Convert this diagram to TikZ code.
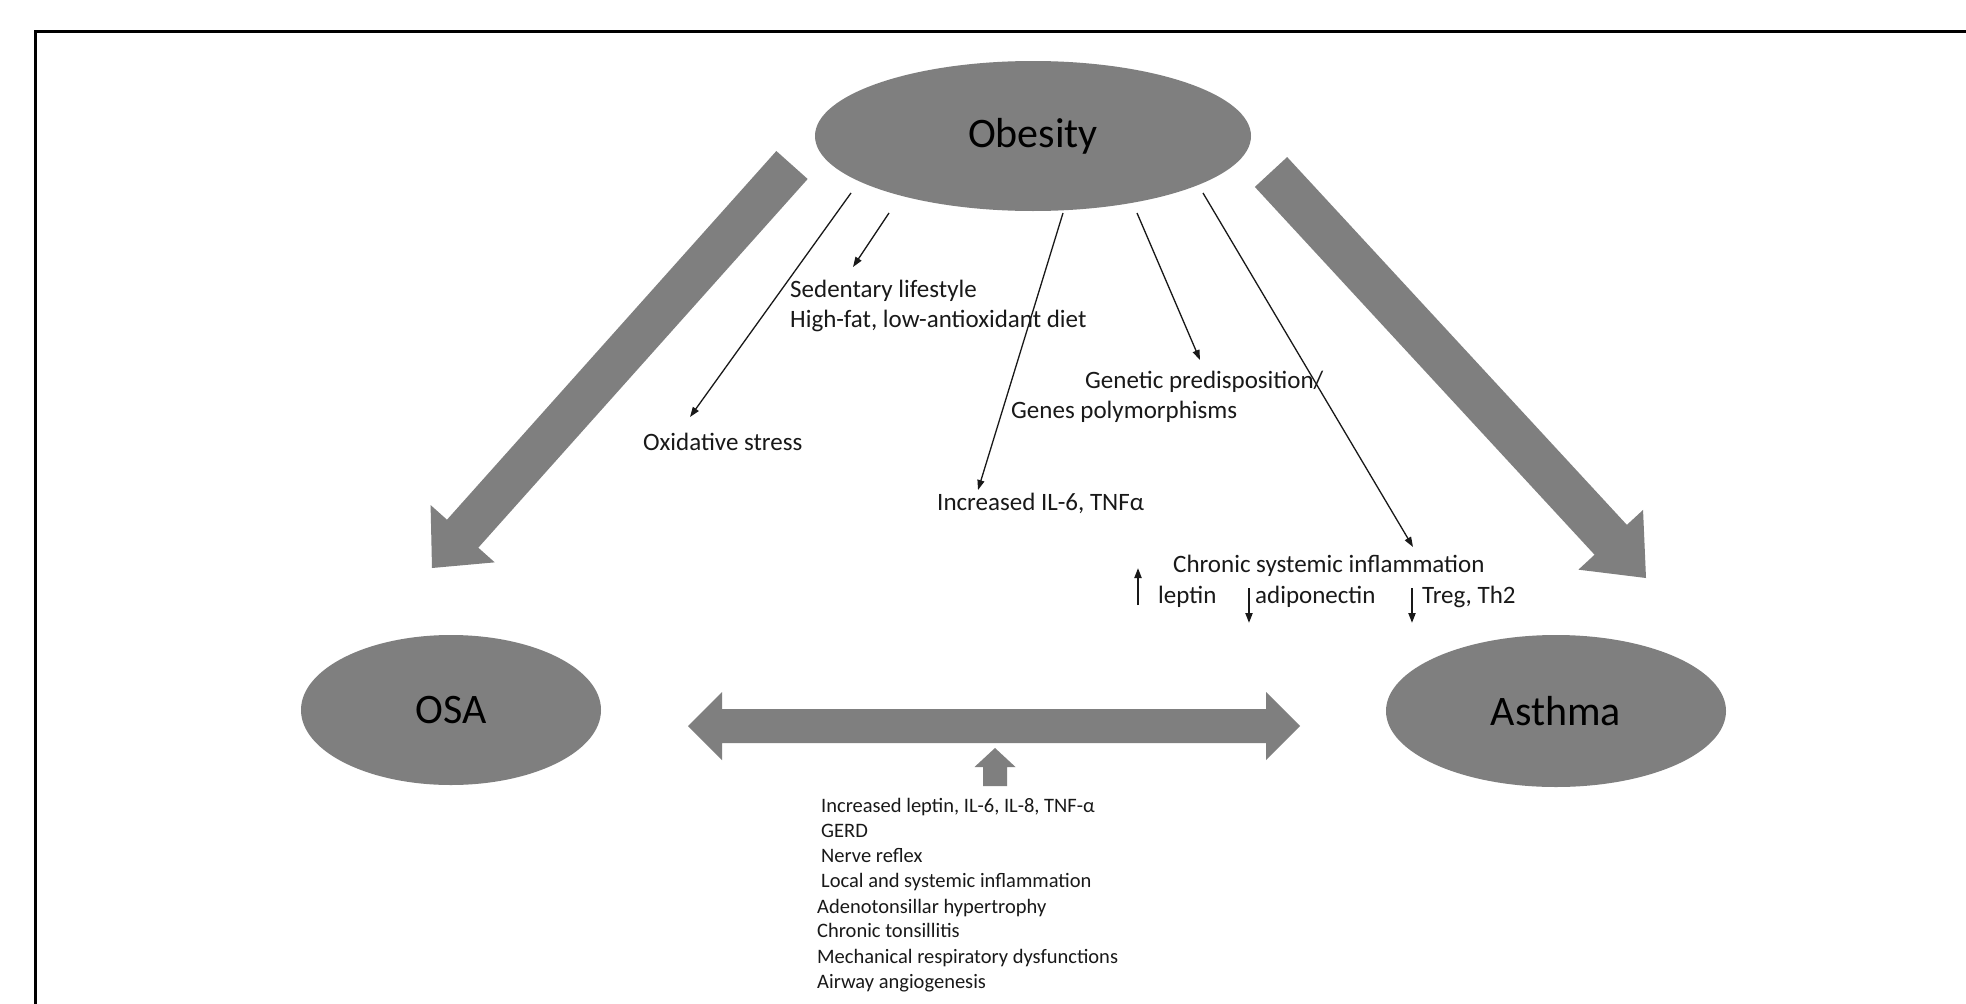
\documentclass[tikz,border=0pt]{standalone}
\usepackage{fontspec}
\setmainfont{Carlito}
\usetikzlibrary{calc,shapes.geometric,arrows.meta}
\definecolor{shapegray}{RGB}{127,127,127}
\definecolor{ink}{RGB}{25,25,25}
% block arrow: #1 name, #2 start coord, #3 tip coord, #4 shaft half width, #5 head half width, #6 head length
\newcommand\blockarrow[6]{%
  \coordinate (#1b) at ($(#3)!#6!(#2)$);
  \fill[big] ($(#2)!#4!90:(#3)$) -- ($(#1b)!#4!90:(#3)$) -- ($(#1b)!#5!90:(#3)$) -- (#3)
     -- ($(#1b)!#5!-90:(#3)$) -- ($(#1b)!#4!-90:(#3)$) -- ($(#2)!#4!-90:(#3)$) -- cycle;
}
\begin{document}
\begin{tikzpicture}[x=1pt,y=-1pt,
  ell/.style={ellipse, fill=shapegray, inner sep=0pt, text=black, font=\fontsize{42}{46}\selectfont},
  lbl/.style={anchor=base west, inner sep=0pt, text=ink, font=\fontsize{25}{29}\selectfont},
  sml/.style={anchor=base west, inner sep=0pt, text=ink, font=\fontsize{20.5}{24}\selectfont},
  thinarrow/.style={draw=ink, line width=1.3pt, -{Triangle[length=10pt,width=7pt]}},
  big/.style={fill=shapegray}]
\useasboundingbox (0,0) rectangle (1966,1004);
\fill[white] (0,0) rectangle (1966,1004);
% frame
\draw[line width=3pt, black] (35,1010) -- (35,31) -- (1975,31);

% main nodes
\node[ell, minimum width=436pt, minimum height=150pt] (obesity) at (1033,136) {Obesity};
\node[ell, minimum width=300pt, minimum height=150pt] (osa) at (451,710) {OSA};
\node[ell, minimum width=340pt, minimum height=152pt] (asthma) at (1556,711) {Asthma};

% big arrows
\coordinate (Ls) at (792,165); \coordinate (Lt) at (432,568);
\blockarrow{L}{Ls}{Lt}{21pt}{43pt}{46pt}
\coordinate (Rs) at (1271,172); \coordinate (Rt) at (1646,578);
\blockarrow{R}{Rs}{Rt}{22pt}{44pt}{52pt}

% double arrow
\coordinate (dl) at (688,726); \coordinate (dr) at (1300,726);
\fill[big] (dl) -- ++(34,-34) -- ++(0,17) -- ($(dr)+(-34,-17)$) -- ++(0,-17) -- (dr)
  -- ++(-34,34) -- ++(0,-17) -- ($(dl)+(34,17)$) -- ++(0,17) -- cycle;

% small up arrow
\coordinate (us) at (995,786); \coordinate (ut) at (995,748);
\blockarrow{U}{us}{ut}{12pt}{20.5pt}{19pt}

% labels
\node[lbl] (sed) at (790,297) {Sedentary lifestyle};
\node[lbl] (diet) at (790,327) {High-fat, low-antioxidant diet};
\node[lbl] (gen) at (1085,388) {Genetic predisposition/};
\node[lbl] (genes) at (1011,418) {Genes polymorphisms};
\node[lbl] (il6) at (937,510) {Increased IL-6, TNFα};
\node[lbl] (ox) at (643,450) {Oxidative stress};
\node[lbl] (chronic) at (1173,572) {Chronic systemic inflammation};
\node[lbl] (leptin) at (1158,603) {leptin};
\node[lbl] (adipo) at (1255,603) {adiponectin};
\node[lbl] (treg) at (1422,603) {Treg, Th2};

% bottom list
\node[sml] (b1) at (821,812) {Increased leptin, IL-6, IL-8, TNF-α};
\node[sml] (b2) at (821,837) {GERD};
\node[sml] (b3) at (821,862) {Nerve reflex};
\node[sml] (b4) at (821,887) {Local and systemic inflammation};
\node[sml] (b5) at (817,913) {Adenotonsillar hypertrophy};
\node[sml] (b6) at (817,937) {Chronic tonsillitis};
\node[sml] (b7) at (817,963) {Mechanical respiratory dysfunctions};
\node[sml] (b8) at (817,988) {Airway angiogenesis};

% thin arrows from obesity
\coordinate (o1) at (851,193); \coordinate (e1) at (690,417);
\coordinate (o2) at (889,213); \coordinate (e2) at (853,267);
\coordinate (o3) at (1063,213); \coordinate (e3) at (978,490);
\coordinate (o4) at (1137,213); \coordinate (e4) at (1200,360);
\coordinate (o5) at (1203,193); \coordinate (e5) at (1413,547);
\draw[thinarrow] (o1) -- (e1);
\draw[thinarrow] (o2) -- (e2);
\draw[thinarrow] (o3) -- (e3);
\draw[thinarrow] (o4) -- (e4);
\draw[thinarrow] (o5) -- (e5);

% small vertical arrows
\coordinate (v1s) at (1138,605); \coordinate (v1e) at (1138,568);
\coordinate (v2s) at (1249,588); \coordinate (v2e) at (1249,623);
\coordinate (v3s) at (1412,588); \coordinate (v3e) at (1412,623);
\draw[thinarrow, line width=2pt] (v1s) -- (v1e);
\draw[thinarrow, line width=2pt] (v2s) -- (v2e);
\draw[thinarrow, line width=2pt] (v3s) -- (v3e);
\end{tikzpicture}
\end{document}
